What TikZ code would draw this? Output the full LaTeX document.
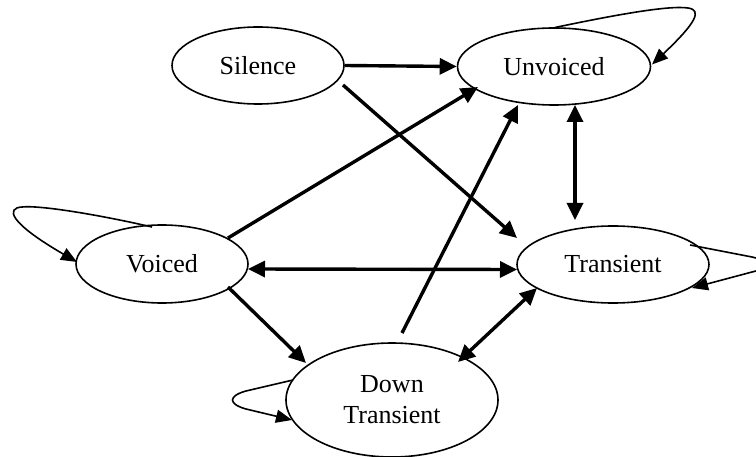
\documentclass[tikz,border=0pt]{standalone}
\usepackage{fontspec}
\setmainfont{Liberation Serif}
\usetikzlibrary{arrows.meta,shapes.geometric}
\tikzset{
  state/.style={ellipse, draw, line width=1.6pt, inner sep=0pt, font=\fontsize{26}{31}\selectfont, align=center},
  thickarrow/.style={line width=3.4pt, -{Triangle[length=17pt,width=16pt]}},
  bothway/.style={line width=3.4pt, {Triangle[length=17pt,width=16pt]}-{Triangle[length=17pt,width=16pt]}},
  loopline/.style={line width=1.6pt, -{Triangle[length=16pt,width=13pt]}}
}
\begin{document}
\begin{tikzpicture}[x=1pt,y=-1pt]
\useasboundingbox (0,0) rectangle (756,457);
\node[state, minimum width=172pt, minimum height=77pt] (sil) at (258,65.5) {Silence};
\node[state, minimum width=193pt, minimum height=77pt] (unv) at (554,66.5) {Unvoiced};
\node[state, minimum width=172pt, minimum height=78pt] (voi) at (162,264) {Voiced};
\node[state, minimum width=192pt, minimum height=77pt] (tra) at (613,264.5) {Transient};
\node[state, minimum width=212pt, minimum height=114pt] (dwn) at (392,400) {Down\\Transient};

% straight connectors
\draw[thickarrow] (sil.east) -- (unv.west);
\draw[thickarrow] ([shift={(85,19.5)}]sil.center) -- ([shift={(-96,-26.5)}]tra.center);
\draw[thickarrow] ([shift={(66,-26)}]voi.center) -- ([shift={(-76,20.5)}]unv.center);
\draw[bothway] ([shift={(86,5)}]voi.center) -- ([shift={(-96,5)}]tra.center);
\draw[thickarrow] ([shift={(66,23)}]voi.center) -- ([shift={(-86,-37)}]dwn.center);
\draw[thickarrow] ([shift={(10,-67)}]dwn.center) -- ([shift={(-36,38.5)}]unv.center);
\draw[bothway] ([shift={(21,38.5)}]unv.center) -- ([shift={(-38,-44.5)}]tra.center);
\draw[bothway] ([shift={(-76,23.5)}]tra.center) -- ([shift={(66,-38)}]dwn.center);

% self loops
\draw[loopline] ([shift={(1,-39)}]unv.center) .. controls (610,16) and (668,5) .. (688,8)
  .. controls (702,10) and (697,22) .. ([shift={(98,-2)}]unv.center);
\draw[loopline] ([shift={(-10,-37)}]voi.center) .. controls (100,215) and (40,205) .. (22,207)
  .. controls (6,208) and (8,222) .. ([shift={(-85,-2)}]voi.center);
\draw[loopline] ([shift={(77,-19.5)}]tra.center) -- (752,257) .. controls (770,261) and (770,268) .. (752,272)
  -- ([shift={(79,23.5)}]tra.center);
\draw[loopline] ([shift={(-99,-20)}]dwn.center) -- (246,391) .. controls (228,396) and (228,404) .. (246,409)
  -- ([shift={(-100,20)}]dwn.center);
\end{tikzpicture}
\end{document}
